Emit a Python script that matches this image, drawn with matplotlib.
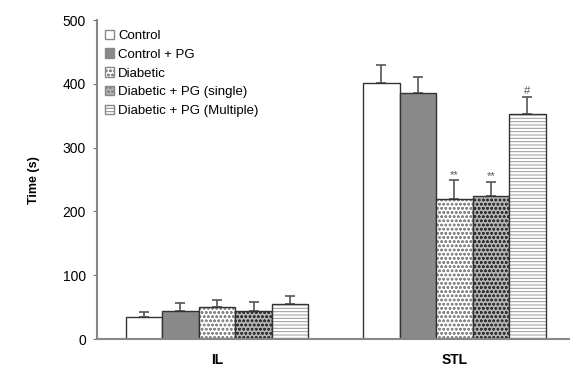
import numpy as np
import matplotlib.pyplot as plt

plt.rcParams['font.family'] = ['Liberation Sans', 'DejaVu Sans']
plt.rcParams['hatch.linewidth'] = 0.7

groups = ["IL", "STL"]
labels = ["Control", "Control + PG", "Diabetic", "Diabetic + PG (single)", "Diabetic + PG (Multiple)"]
means = {
    "Control": [34, 402],
    "Control + PG": [44, 385],
    "Diabetic": [51, 219],
    "Diabetic + PG (single)": [44, 224],
    "Diabetic + PG (Multiple)": [55, 353],
}
errs = {
    "Control": [8, 28],
    "Control + PG": [12, 26],
    "Diabetic": [11, 30],
    "Diabetic + PG (single)": [14, 22],
    "Diabetic + PG (Multiple)": [13, 27],
}
stl_marks = ["", "", "**", "**", "#"]

faces = ["white", "#8a8a8a", "white", "#b5b5b5", "white"]
hatches = [None, None, "oooo", "oooo", "-----"]
hatch_cols = ["#333333", "#333333", "#888888", "#333333", "#999999"]

fig = plt.figure(figsize=(5.7, 3.73), dpi=100)
ax = fig.add_axes([0.17, 0.091, 0.83, 0.855])

centers = np.array([0.0, 6.5])
width = 1.0
for i, lab in enumerate(labels):
    x = centers + (i - 2) * width
    bars = ax.bar(x, means[lab], width=width, color=faces[i], edgecolor="#333333",
                  linewidth=1.0, hatch=hatches[i], label=lab, zorder=2)
    for b in bars:
        b._hatch_color = plt.matplotlib.colors.to_rgba(hatch_cols[i])
    ax.errorbar(x, means[lab], yerr=[np.zeros(2), errs[lab]], fmt="none",
                ecolor="#555555", elinewidth=1.2, capsize=3.5, capthick=1.2, zorder=1)
    if stl_marks[i]:
        ax.text(x[1], means[lab][1] + errs[lab][1] + 1, stl_marks[i], ha="center",
                va="bottom", fontsize=8, color="#555555")

ax.set_xlim(-3.29, 9.67)
ax.set_ylim(0, 500)
ax.set_yticks([0, 100, 200, 300, 400, 500])
ax.set_xticks(centers)
ax.set_xticklabels(groups, fontsize=10, fontweight="bold")
ax.tick_params(axis="x", length=0, pad=10)
ax.tick_params(axis="y", length=3, labelsize=10, color="#777777", pad=5)
ax.set_ylabel("Time (s)", fontsize=9, fontweight="bold", labelpad=16)
for s in ["top", "right"]:
    ax.spines[s].set_visible(False)
for s in ["left", "bottom"]:
    ax.spines[s].set_color("#888888")
    ax.spines[s].set_linewidth(1.5)

leg = ax.legend(loc="upper left", bbox_to_anchor=(0.0, 0.995), frameon=False, fontsize=9.5,
                handlelength=0.7, handleheight=0.7, handletextpad=0.3, labelspacing=0.5,
                borderaxespad=0.2)
for h in leg.legend_handles:
    h.set_edgecolor("#888888")

fig.savefig("out.png", dpi=100)
